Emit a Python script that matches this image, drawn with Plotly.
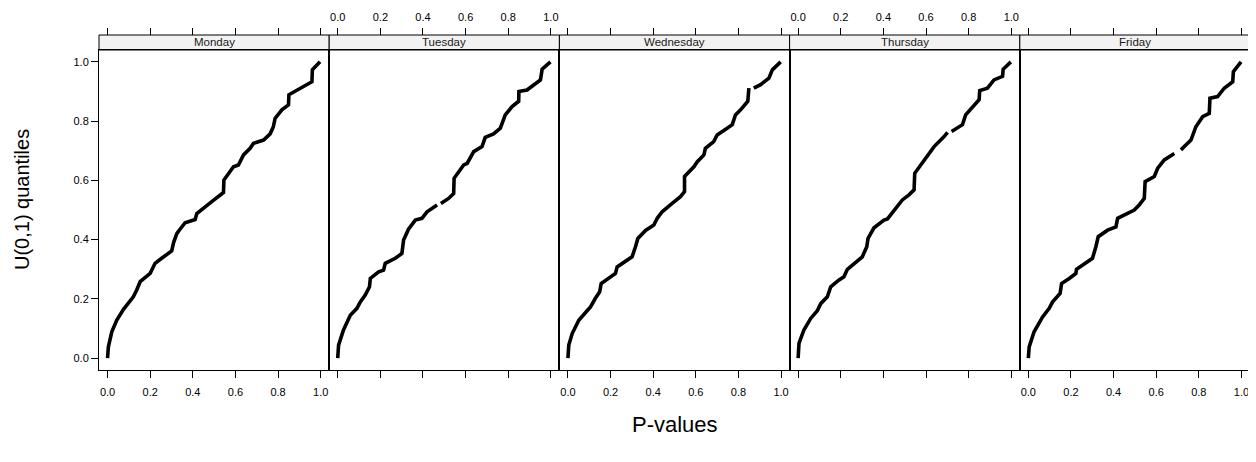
import plotly.graph_objects as go

# the page has an 8px body margin, so the figure is drawn 8px in from the corner
OFF = 8
W, H = 1256 - OFF, 462 - OFF
days = ["Monday", "Tuesday", "Wednesday", "Thursday", "Friday"]

# sorted P-values (x) against U(0,1) quantiles (y); None = gap
mon_p = [0, 0.004, 0.02, 0.043, 0.074, 0.098, 0.121, 0.137, 0.153, 0.2, 0.223, 0.254, 0.301, 0.31, 0.325, 0.34, 0.364, 0.411, 0.419, 0.489, 0.52, 0.544, 0.546, 0.591, 0.614, 0.638, 0.669, 0.685, 0.732, 0.763, 0.778, 0.786, 0.818, 0.849, 0.851, 0.888, 0.959, 0.961, 0.997]
mon_q = [0, 0.038, 0.089, 0.128, 0.164, 0.187, 0.207, 0.23, 0.258, 0.286, 0.32, 0.337, 0.362, 0.39, 0.42, 0.435, 0.457, 0.468, 0.488, 0.528, 0.545, 0.559, 0.601, 0.646, 0.652, 0.686, 0.708, 0.725, 0.736, 0.757, 0.781, 0.809, 0.838, 0.855, 0.889, 0.905, 0.933, 0.973, 1.0]

tue_p = [0, 0.004, 0.027, 0.059, 0.09, 0.106, 0.129, 0.149, 0.153, 0.192, 0.215, 0.223, 0.27, 0.301, 0.309, 0.325, 0.332, 0.364, 0.395, 0.419, 0.466, None, 0.484, 0.52, 0.544, 0.546, 0.591, 0.607, 0.638, 0.677, 0.692, 0.731, 0.763, 0.786, 0.818, 0.849, 0.85, 0.888, 0.951, 0.959, 0.998]
tue_q = [0, 0.044, 0.095, 0.145, 0.168, 0.19, 0.213, 0.241, 0.269, 0.291, 0.297, 0.32, 0.337, 0.353, 0.399, 0.427, 0.435, 0.466, 0.472, 0.494, 0.517, None, 0.522, 0.539, 0.556, 0.607, 0.652, 0.657, 0.697, 0.714, 0.745, 0.757, 0.776, 0.821, 0.849, 0.867, 0.9, 0.905, 0.939, 0.975, 1.0]

wed_p = [0, 0.004, 0.02, 0.051, 0.09, 0.106, 0.129, 0.149, 0.156, 0.192, 0.223, 0.231, 0.27, 0.301, 0.317, 0.328, 0.364, 0.403, 0.419, 0.442, 0.489, 0.528, 0.547, 0.547, 0.591, 0.607, 0.638, 0.645, 0.684, 0.7, 0.747, 0.771, 0.786, 0.81, 0.844, 0.849, None, 0.872, 0.904, 0.943, 0.959, 0.998]
wed_q = [0, 0.044, 0.083, 0.128, 0.16, 0.173, 0.202, 0.224, 0.252, 0.269, 0.286, 0.308, 0.325, 0.342, 0.376, 0.404, 0.431, 0.449, 0.472, 0.494, 0.522, 0.545, 0.562, 0.613, 0.646, 0.663, 0.686, 0.708, 0.731, 0.753, 0.776, 0.788, 0.821, 0.838, 0.867, 0.911, None, 0.911, 0.923, 0.945, 0.973, 1.0]

thu_p = [0, 0.004, 0.027, 0.059, 0.09, 0.106, 0.137, 0.153, 0.192, 0.215, 0.231, 0.27, 0.301, 0.322, 0.328, 0.356, 0.403, 0.419, 0.489, 0.52, 0.544, 0.547, 0.591, 0.638, 0.685, 0.701, None, 0.72, 0.771, 0.786, 0.818, 0.849, 0.852, 0.888, 0.919, 0.959, 0.962, 0.998]
thu_q = [0, 0.05, 0.095, 0.134, 0.16, 0.184, 0.207, 0.241, 0.264, 0.275, 0.3, 0.325, 0.342, 0.376, 0.404, 0.44, 0.466, 0.47, 0.534, 0.551, 0.568, 0.624, 0.669, 0.714, 0.748, 0.762, None, 0.765, 0.788, 0.821, 0.849, 0.872, 0.903, 0.911, 0.939, 0.951, 0.975, 1.0]

fri_p = [0, 0.004, 0.027, 0.067, 0.098, 0.114, 0.149, 0.156, 0.192, 0.223, 0.226, 0.27, 0.301, 0.317, 0.328, 0.372, 0.411, 0.419, 0.497, 0.52, 0.544, 0.548, 0.591, 0.607, 0.638, 0.685, None, 0.716, 0.763, 0.786, 0.818, 0.849, 0.852, 0.888, 0.919, 0.959, 0.962, 0.998]
fri_q = [0, 0.038, 0.089, 0.139, 0.168, 0.19, 0.218, 0.252, 0.269, 0.286, 0.3, 0.32, 0.337, 0.376, 0.41, 0.432, 0.443, 0.472, 0.5, 0.517, 0.539, 0.596, 0.613, 0.641, 0.669, 0.691, None, 0.703, 0.736, 0.781, 0.815, 0.826, 0.877, 0.883, 0.911, 0.933, 0.967, 1.0]

tick_vals = [0.0, 0.2, 0.4, 0.6, 0.8, 1.0]
tick_text = ["0.0", "0.2", "0.4", "0.6", "0.8", "1.0"]

series = [(mon_p, mon_q), (tue_p, tue_q), (wed_p, wed_q), (thu_p, thu_q), (fri_p, fri_q)]

def fx(px):
    return (px - OFF) / W

def fy(py):
    return 1 - (py - OFF) / H

LEFT, PW = 99, 230.2
PANEL_TOP, PANEL_BOT, STRIP_TOP = 50, 370, 35
RNG = [-0.04, 1.04]
FONT = "Liberation Sans, Arial, Helvetica, sans-serif"

fig = go.Figure()
layout = dict(
    width=W, height=H, margin=dict(l=0, r=0, t=0, b=0),
    paper_bgcolor="white", plot_bgcolor="white", showlegend=False,
    font=dict(family=FONT, color="black", size=11),
    shapes=[], annotations=[],
)

for i, (name, (px_, qy_)) in enumerate(zip(days, series)):
    n = i + 1
    L = LEFT + i * PW
    R = L + PW
    xs = "" if n == 1 else str(n)
    fig.add_trace(go.Scatter(
        x=px_, y=qy_, mode="lines", connectgaps=False,
        line=dict(color="black", width=3.6),
        xaxis="x" + xs, yaxis="y" + xs, hoverinfo="skip",
    ))
    top_id = str(n + 5)
    fig.add_trace(go.Scatter(x=[None], y=[None], mode="markers",
                             xaxis="x" + top_id, yaxis="y" + xs, hoverinfo="skip"))

    layout["xaxis" + xs] = dict(
        domain=[fx(L), fx(R)], range=RNG, anchor="y" + xs,
        tickvals=tick_vals, ticktext=tick_text, ticks="outside", ticklen=7,
        tickwidth=1, tickcolor="black", showticklabels=(n in (1, 3, 5)),
        ticklabelstandoff=5,
        showline=True, linecolor="black", linewidth=1, mirror=True,
        showgrid=False, zeroline=False, fixedrange=True,
        tickfont=dict(size=11, family=FONT, color="black"),
    )
    ycfg = dict(
        domain=[fy(PANEL_BOT), fy(PANEL_TOP)], range=RNG, anchor="x" + xs,
        showline=True, linecolor="black", linewidth=1, mirror=True,
        showgrid=False, zeroline=False, fixedrange=True,
        tickvals=tick_vals, ticktext=tick_text,
        tickfont=dict(size=11, family=FONT, color="black"),
    )
    if n == 1:
        ycfg.update(ticks="outside", ticklen=7, tickwidth=1, tickcolor="black", showticklabels=True)
    elif n == 5:
        ycfg.update(side="right", ticks="outside", ticklen=7, tickwidth=1, tickcolor="black", showticklabels=False)
    else:
        ycfg.update(ticks="", showticklabels=False)
    layout["yaxis" + xs] = ycfg

    layout["xaxis" + top_id] = dict(
        domain=[fx(L), fx(R)], range=RNG, overlaying="x" + xs, anchor="free",
        position=fy(STRIP_TOP), side="top",
        tickvals=tick_vals, ticktext=tick_text, ticks="outside", ticklen=7,
        tickwidth=1, tickcolor="black", showticklabels=(n in (2, 4)),
        ticklabelstandoff=3,
        showline=False, showgrid=False, zeroline=False, fixedrange=True,
        tickfont=dict(size=11, family=FONT, color="black"),
    )

    layout["shapes"].append(dict(
        type="rect", xref="paper", yref="paper",
        x0=fx(L), x1=fx(R), y0=fy(PANEL_TOP), y1=fy(STRIP_TOP),
        fillcolor="#f2f2f2", line=dict(color="black", width=1), layer="below",
    ))
    layout["annotations"].append(dict(
        text=name, xref="paper", yref="paper", x=fx((L + R) / 2), y=fy((PANEL_TOP + STRIP_TOP) / 2),
        showarrow=False, xanchor="center", yanchor="middle",
        font=dict(size=11.5, family=FONT, color="#1a1a1a"),
    ))

layout["annotations"].append(dict(
    text="U(0,1) quantiles", xref="paper", yref="paper", x=fx(22), y=fy(200),
    showarrow=False, textangle=-90, xanchor="center", yanchor="middle",
    font=dict(size=20, family=FONT, color="black"),
))
layout["annotations"].append(dict(
    text="P-values", xref="paper", yref="paper", x=fx(674.5), y=fy(424),
    showarrow=False, xanchor="center", yanchor="middle",
    font=dict(size=22, family=FONT, color="black"),
))

fig.update_layout(**layout)
fig.write_html("out.html")
